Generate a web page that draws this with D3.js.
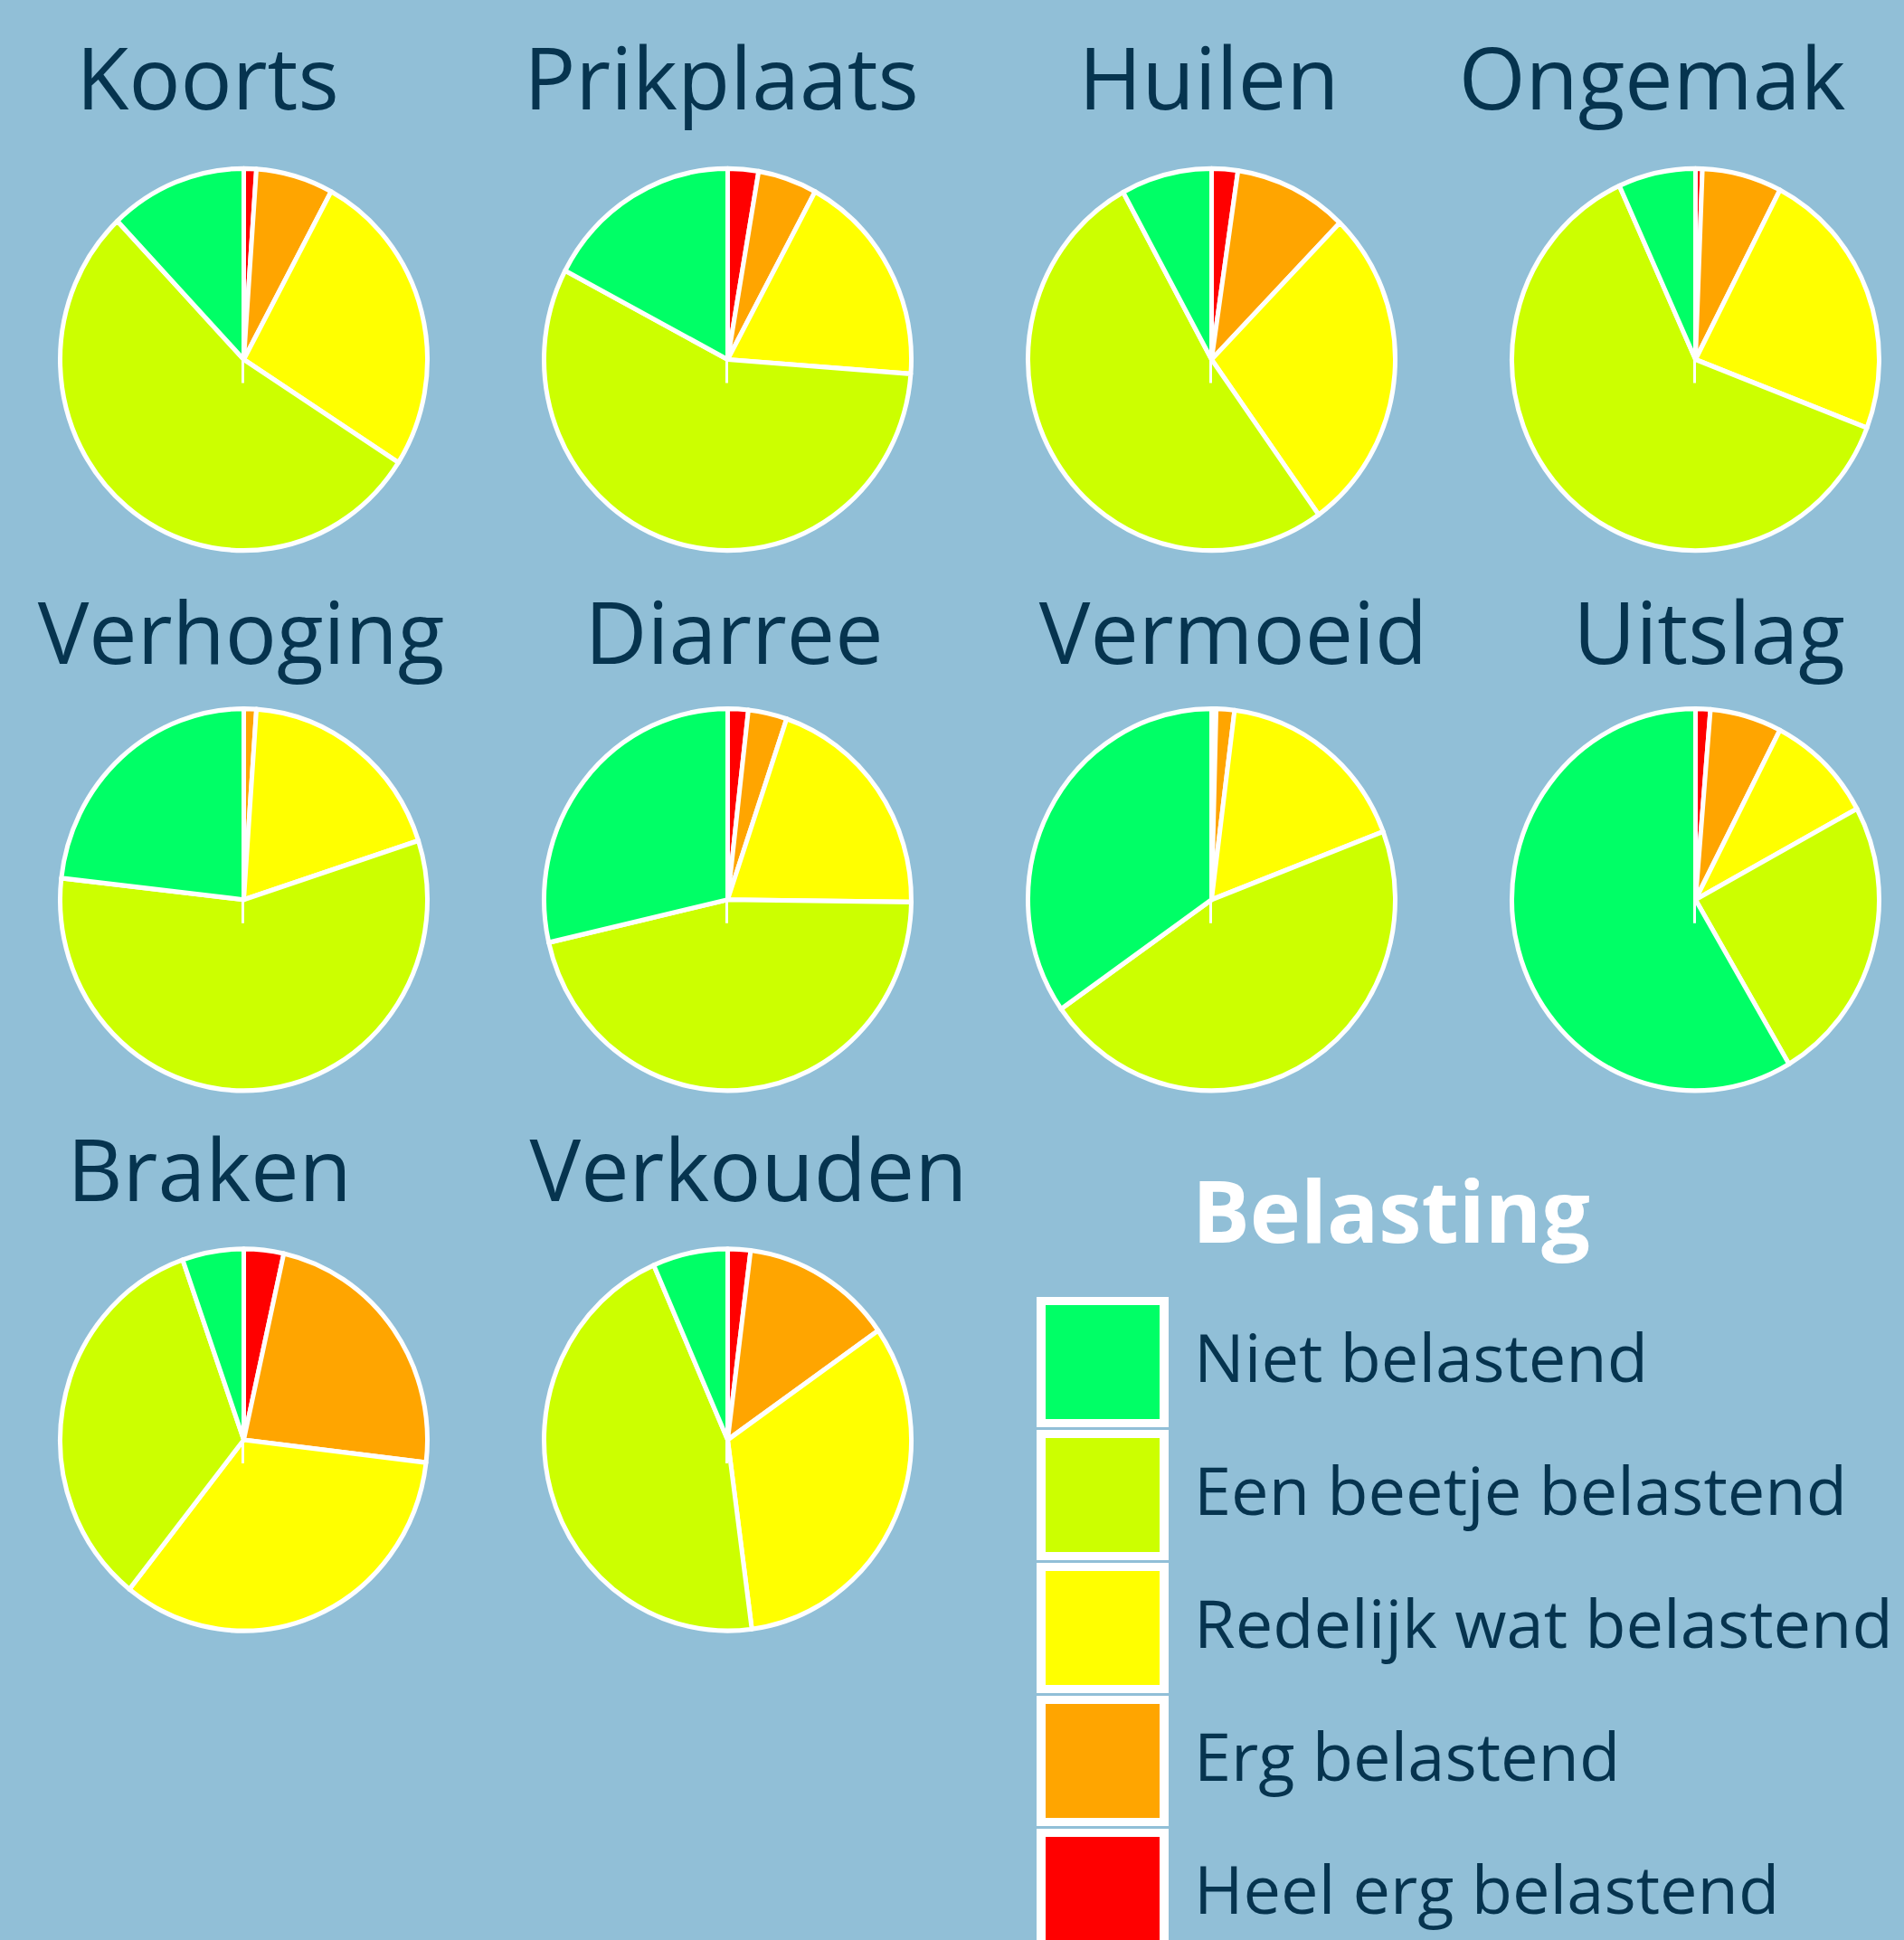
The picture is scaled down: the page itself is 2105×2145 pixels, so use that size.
<!DOCTYPE html>
<html>
<head>
<meta charset="utf-8">
<script src="https://cdn.jsdelivr.net/npm/d3@7"></script>
<style>
  html, body { margin: 0; padding: 0; background: #91bfd7; }
  svg { display: block; font-family: "Open Sans", sans-serif; }
</style>
</head>
<body>
<div id="app"></div>
<script>
var width = 2105;
var height = 2145;

// data, percentages
var symptoms = ["Koorts", "Prikplaats", "Huilen", "Ongemak", "Verhoging",
                "Diarree", "Vermoeid", "Uitslag", "Braken", "Verkouden"];
var categories = ["Niet belastend", "Een beetje belastend", "Redelijk wat belastend",
                  "Erg belastend", "Heel erg belastend"];
var niet     = [12.1, 17.3,  8.0,  6.8, 23.2, 28.6, 34.7, 58.5,  5.4,  6.6];
var beetje   = [53.9, 56.5, 51.9, 62.3, 56.8, 46.2, 46.1, 24.4, 33.9, 45.5];
var redelijk = [26.2, 18.3, 27.8, 23.2, 18.9, 20.0, 17.2,  9.5, 33.8, 32.6];
var erg      = [ 6.8,  5.2, 10.0,  7.0,  1.1,  3.4,  1.6,  6.3, 23.4, 13.3];
var heelErg  = [ 1.1,  2.7,  2.3,  0.6,  0.0,  1.8,  0.4,  1.3,  3.5,  2.0];

var colors = ["#00ff66", "#ccff00", "#ffff00", "#ffa500", "#ff0000"];
var series = [niet, beetje, redelijk, erg, heelErg];

var color = d3.scaleOrdinal().domain(categories).range(colors);

var svg = d3.select("#app").append("svg")
            .attr("width", width)
            .attr("height", height);

svg.append("rect").attr("width", width).attr("height", height).attr("fill", "#91bfd7");

var colX = d3.scaleLinear().domain([0, 3]).range([269.5, 1874.5]);
var rowY = d3.scaleLinear().domain([0, 2]).range([397.5, 1592]);
var titleY = [121, 734, 1328];
// the titles are not quite centred over their pies
var titleShift = [-40, -7, -3, -48, -3, 7, 24, 15, -38, 23];
var radius = 203;

// pie goes clockwise from the top: heel erg first, niet last
var pie = d3.pie().sort(null).value(function(d) { return d.value; });
var arc = d3.arc().innerRadius(0).outerRadius(radius);

symptoms.forEach(function(name, i) {
    var col = i % 4, row = Math.floor(i / 4);
    var cx = colX(col), cy = rowY(row);

    var slices = categories.map(function(c, k) {
        return { cat: c, value: series[k][i] };
    }).reverse();

    // pies are drawn a bit taller than wide
    var g = svg.append("g").attr("transform", "translate(" + cx + "," + cy + ") scale(1,1.04)");

    g.selectAll("path")
        .data(pie(slices))
        .enter().append("path")
        .attr("d", arc)
        .attr("fill", function(d) { return color(d.data.cat); })
        .attr("stroke", "#fff")
        .attr("stroke-width", 5)
        .attr("stroke-linejoin", "round");

    g.append("line")
        .attr("x1", -1).attr("y1", 0)
        .attr("x2", -1).attr("y2", 25)
        .attr("stroke", "#fff")
        .attr("stroke-width", 3);

    svg.append("text")
        .attr("x", cx + titleShift[i])
        .attr("y", titleY[row])
        .attr("text-anchor", "middle")
        .attr("font-size", 95)
        .attr("fill", "#06344f")
        .text(name);
});

// legend
var legend = svg.append("g");

legend.append("text")
    .attr("x", 1318)
    .attr("y", 1374)
    .attr("font-size", 95)
    .attr("font-weight", "bold")
    .attr("fill", "#fff")
    .text("Belasting");

var legY = d3.scaleLinear().domain([0, 1]).range([1434, 1581]);

var items = legend.selectAll("g.item")
    .data(categories)
    .enter().append("g")
    .attr("class", "item")
    .attr("transform", function(d, k) { return "translate(1146," + legY(k) + ")"; });

items.append("rect")
    .attr("width", 146).attr("height", 144)
    .attr("fill", "#fff");

items.append("rect")
    .attr("x", 10).attr("y", 9)
    .attr("width", 126).attr("height", 126)
    .attr("fill", function(d) { return color(d); });

items.append("text")
    .attr("x", 174)
    .attr("y", 68)
    .attr("dy", "0.35em")
    .attr("font-size", 74)
    .attr("fill", "#06344f")
    .text(function(d) { return d; });
</script>
</body>
</html>
